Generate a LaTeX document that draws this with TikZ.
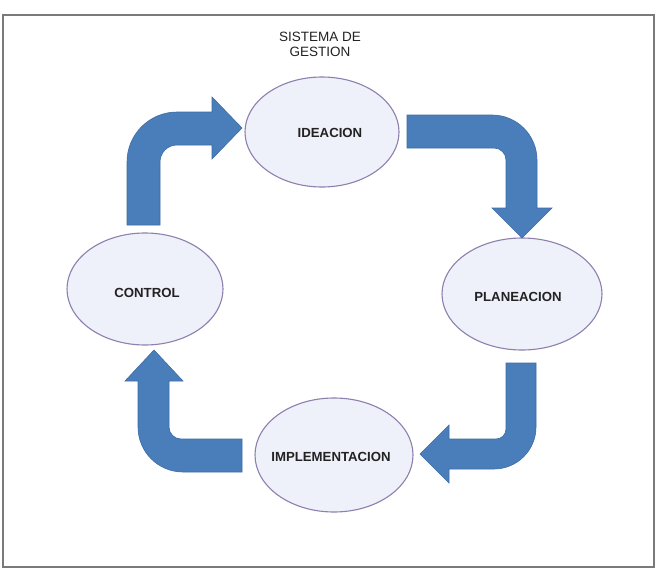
\documentclass[tikz,border=0pt]{standalone}
\usepackage{fontspec}
\setmainfont{Liberation Sans}
\usetikzlibrary{shapes.geometric}
\definecolor{arrowblue}{HTML}{4A7EBB}
\definecolor{arrowedge}{HTML}{3E6CA3}
\definecolor{ellfill}{HTML}{EEF0FA}
\definecolor{elledge}{HTML}{8E80AE}
\definecolor{txt}{HTML}{222222}
\definecolor{framegray}{HTML}{7A7A7A}
\tikzset{
  stage/.style={ellipse, draw=elledge, fill=ellfill, line width=1.1pt, inner sep=0pt},
  stagetext/.style={font=\bfseries\fontsize{13.2}{15}\selectfont, text=txt, inner sep=0pt},
  blockarrow/.style={fill=arrowblue, draw=arrowedge, line width=0.6pt, line join=miter},
}
\begin{document}
\begin{tikzpicture}[x=1pt,y=-1pt]
\useasboundingbox (0,0) rectangle (659,570);
\fill[white] (0,0) rectangle (659,570);
\draw[framegray, line width=2pt] (3,15) rectangle (654,567);

% title
\node[align=center, font=\fontsize{13.5}{15}\selectfont, text=txt, inner sep=0pt] (title) at (320,44.5) {SISTEMA DE\\GESTION};

% stages
\node[stage, minimum width=154pt, minimum height=110pt] (idea) at (322,132) {};
\node[stage, minimum width=160pt, minimum height=112pt] (plan) at (522,294) {};
\node[stage, minimum width=158pt, minimum height=114pt] (impl) at (334,455) {};
\node[stage, minimum width=156pt, minimum height=112pt] (ctrl) at (145,289) {};

\node[stagetext] (ideat) at (330,133) {IDEACION};
\node[stagetext] (plant) at (518,297) {PLANEACION};
\node[stagetext] (implt) at (331,457) {IMPLEMENTACION};
\node[stagetext] (ctrlt) at (147,293) {CONTROL};

% top-left arrow (control -> ideacion)
\draw[blockarrow] (127,225) [rounded corners=50pt] -- (127,112) [sharp corners] -- (212,112)
  -- (212,97) -- (242,128) -- (212,159) -- (212,145) [rounded corners=17pt] -- (160,145)
  [sharp corners] -- (160,225) -- cycle;

% top-right arrow (ideacion -> planeacion)
\draw[blockarrow] (407,115) [rounded corners=45pt] -- (537,115) [sharp corners] -- (537,208)
  -- (552,208) -- (522,238) -- (492,208) -- (506,208) [rounded corners=12pt] -- (506,148)
  [sharp corners] -- (407,148) -- cycle;

% bottom-right arrow (planeacion -> implementacion)
\draw[blockarrow] (506,363) -- (536,363) [rounded corners=42pt] -- (536,469) [sharp corners]
  -- (449,469) -- (449,483) -- (420,454) -- (449,425) -- (449,439) [rounded corners=10pt]
  -- (506,439) [sharp corners] -- cycle;

% bottom-left arrow (implementacion -> control)
\draw[blockarrow] (242,439) [rounded corners=12pt] -- (169,439) [sharp corners] -- (169,381)
  -- (183,381) -- (154,350) -- (125,381) -- (138,381) [rounded corners=45pt] -- (138,472)
  [sharp corners] -- (242,472) -- cycle;
\end{tikzpicture}
\end{document}
